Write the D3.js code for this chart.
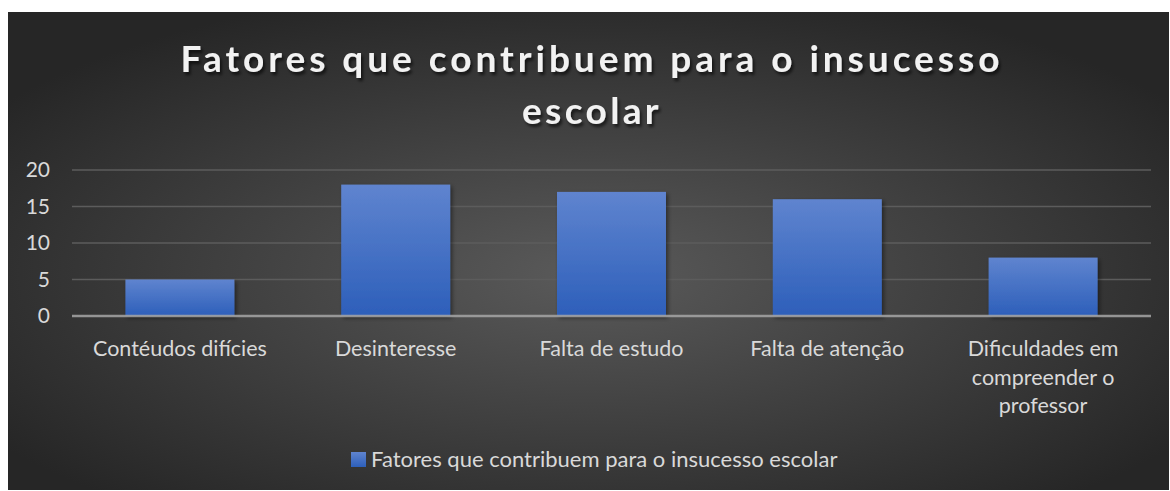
<!DOCTYPE html>
<html>
<head>
<meta charset="utf-8">
<script src="https://cdn.jsdelivr.net/npm/d3@7"></script>
<style>
  html, body { margin: 0; padding: 0; background: #fff; overflow: hidden; }
  #chart { width: 1170px; height: 491px; }
  svg { display: block; }
</style>
</head>
<body>
<div id="chart"></div>
<script>
const categories = [
    ["Contéudos difícies"],
    ["Desinteresse"],
    ["Falta de estudo"],
    ["Falta de atenção"],
    ["Dificuldades em", "compreender o", "professor"]
];
const values = [5, 18, 17, 16, 8];
const yTicks = [0, 5, 10, 15, 20];
const seriesName = "Fatores que contribuem para o insucesso escolar";
const titleLines = ["Fatores que contribuem para o insucesso", "escolar"];

const width = 1170;
const height = 491;
const font = "Lato, 'Open Sans', sans-serif";

const svg = d3.select("#chart")
    .append("svg")
    .attr("width", width)
    .attr("height", height);

const defs = svg.append("defs");

// background gradient
const bg = defs.append("radialGradient")
    .attr("id", "bg")
    .attr("cx", "50%").attr("cy", "55%")
    .attr("r", "62%");
bg.append("stop").attr("offset", "0%").attr("stop-color", "#5a5a5a");
bg.append("stop").attr("offset", "100%").attr("stop-color", "#262626");

// bar gradient
const barGrad = defs.append("linearGradient")
    .attr("id", "bar")
    .attr("x1", 0).attr("y1", 0).attr("x2", 0).attr("y2", 1);
barGrad.append("stop").attr("offset", "0%").attr("stop-color", "#5f84cf");
barGrad.append("stop").attr("offset", "100%").attr("stop-color", "#2d5fba");

const shadow = defs.append("filter").attr("id", "shadow")
    .attr("x", "-10%").attr("y", "-10%").attr("width", "130%").attr("height", "130%");
shadow.append("feDropShadow")
    .attr("dx", 2).attr("dy", 2).attr("stdDeviation", 2)
    .attr("flood-color", "#000").attr("flood-opacity", 0.45);

const titleShadow = defs.append("filter").attr("id", "tshadow")
    .attr("x", "-5%").attr("y", "-20%").attr("width", "110%").attr("height", "150%");
titleShadow.append("feDropShadow")
    .attr("dx", 2).attr("dy", 3).attr("stdDeviation", 1.5)
    .attr("flood-color", "#000").attr("flood-opacity", 0.6);

svg.append("rect")
    .attr("x", 8).attr("y", 12)
    .attr("width", width - 9).attr("height", height - 13)
    .attr("fill", "url(#bg)");

// title
const titleWidths = [823, 140];
titleLines.forEach((t, i) => {
    const txt = svg.append("text")
        .attr("x", 592)
        .attr("y", 72 + i * 52)
        .attr("text-anchor", "middle")
        .attr("font-family", font)
        .attr("font-weight", "bold")
        .attr("font-size", 37)
        .attr("fill", "#f2f2f2")
        .attr("filter", "url(#tshadow)")
        .text(t);
    // fit the letter spacing to the original title width
    const w = txt.node().getComputedTextLength();
    const ls = (titleWidths[i] - w) / t.length;
    txt.attr("letter-spacing", ls);
});

const margin = { top: 170, right: 19, bottom: 175, left: 72 };
const innerWidth = width - margin.left - margin.right;
const innerHeight = height - margin.top - margin.bottom;

const g = svg.append("g")
    .attr("transform", `translate(${margin.left},${margin.top})`);

const x = d3.scaleBand()
    .domain(d3.range(categories.length))
    .range([0, innerWidth])
    .paddingInner(0.495)
    .paddingOuter(0.2475);

const y = d3.scaleLinear()
    .domain([0, 20])
    .range([innerHeight, 0]);

// gridlines
g.append("g")
    .selectAll("line")
    .data(yTicks.filter(d => d > 0))
    .join("line")
    .attr("x1", 0).attr("x2", innerWidth)
    .attr("y1", d => y(d)).attr("y2", d => y(d))
    .attr("stroke", "#5c5c5c")
    .attr("stroke-width", 1.5);

// y axis
const yAxis = g.append("g")
    .call(d3.axisLeft(y).tickValues(yTicks).tickSize(0).tickPadding(22));
yAxis.select(".domain").remove();
yAxis.selectAll("text")
    .attr("font-family", font)
    .attr("font-size", 21)
    .attr("fill", "#d9d9d9");

// bars
g.append("g")
    .selectAll("rect")
    .data(values)
    .join("rect")
    .attr("x", (d, i) => x(i))
    .attr("y", d => y(d))
    .attr("width", x.bandwidth())
    .attr("height", d => innerHeight - y(d))
    .attr("fill", "url(#bar)")
    .attr("filter", "url(#shadow)");

// x axis line
g.append("line")
    .attr("x1", 0).attr("x2", innerWidth)
    .attr("y1", innerHeight).attr("y2", innerHeight)
    .attr("stroke", "#a6a6a6")
    .attr("stroke-width", 2.5)
    .attr("opacity", 0.85);

// category labels
const labels = g.append("g")
    .selectAll("text")
    .data(categories)
    .join("text")
    .attr("text-anchor", "middle")
    .attr("font-family", font)
    .attr("font-size", 21.5)
    .attr("fill", "#d9d9d9");
labels.each(function (lines, i) {
    d3.select(this).selectAll("tspan")
        .data(lines)
        .join("tspan")
        .attr("x", x(i) + x.bandwidth() / 2)
        .attr("y", (d, j) => innerHeight + 40 + j * 28.5)
        .text(d => d);
});

// legend
const legend = svg.append("g")
    .attr("transform", "translate(351,452)");
legend.append("rect")
    .attr("width", 15).attr("height", 15)
    .attr("fill", "url(#bar)");
legend.append("text")
    .attr("x", 20).attr("y", 15)
    .attr("font-family", font)
    .attr("font-size", 22)
    .attr("fill", "#d9d9d9")
    .text(seriesName);
</script>
</body>
</html>
